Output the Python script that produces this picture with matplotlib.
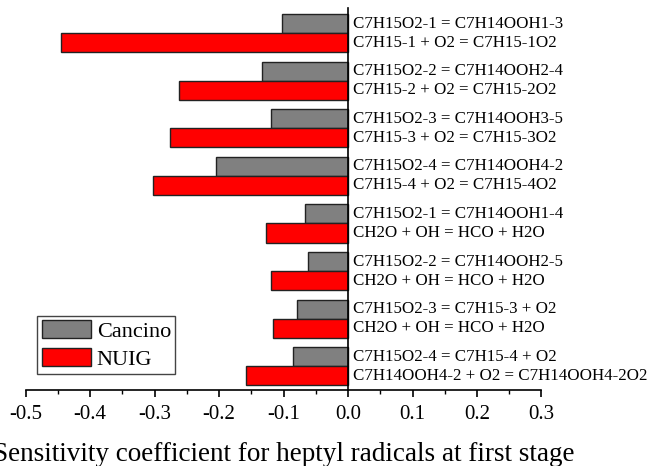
import matplotlib
matplotlib.use("Agg")
import matplotlib.pyplot as plt
import numpy as np
from matplotlib.ticker import MultipleLocator

plt.rcParams['font.family'] = ['Liberation Serif', 'DejaVu Serif']
plt.rcParams['axes.unicode_minus'] = False

# Reaction pairs, listed top to bottom
cancino_reactions = [
    "C7H15O2-1 = C7H14OOH1-3",
    "C7H15O2-2 = C7H14OOH2-4",
    "C7H15O2-3 = C7H14OOH3-5",
    "C7H15O2-4 = C7H14OOH4-2",
    "C7H15O2-1 = C7H14OOH1-4",
    "C7H15O2-2 = C7H14OOH2-5",
    "C7H15O2-3 = C7H15-3 + O2",
    "C7H15O2-4 = C7H15-4 + O2",
]
nuig_reactions = [
    "C7H15-1 + O2 = C7H15-1O2",
    "C7H15-2 + O2 = C7H15-2O2",
    "C7H15-3 + O2 = C7H15-3O2",
    "C7H15-4 + O2 = C7H15-4O2",
    "CH2O + OH = HCO + H2O",
    "CH2O + OH = HCO + H2O",
    "CH2O + OH = HCO + H2O",
    "C7H14OOH4-2 + O2 = C7H14OOH4-2O2",
]
cancino_values = [-0.102, -0.133, -0.120, -0.205, -0.066, -0.062, -0.079, -0.085]
nuig_values = [-0.445, -0.262, -0.276, -0.303, -0.127, -0.120, -0.116, -0.159]
xticks = [-0.5, -0.4, -0.3, -0.2, -0.1, 0.0, 0.1, 0.2, 0.3]

fig = plt.figure(figsize=(6.5, 4.66), dpi=100)
ax = fig.add_axes([0.0395, 0.163, 0.7935, 0.82])

n = len(cancino_values)
centers = np.arange(n)[::-1].astype(float)
h = 0.4
y_c = centers + h / 2
y_n = centers - h / 2

ax.barh(y_c, cancino_values, height=h, color='#808080', edgecolor='#222222',
        linewidth=1.0, label='Cancino')
ax.barh(y_n, nuig_values, height=h, color='#ff0000', edgecolor='#222222',
        linewidth=1.0, label='NUIG')

for y, t in zip(y_c, cancino_reactions):
    ax.annotate(t, xy=(0, y), xytext=(3.5, 0), textcoords='offset points',
                ha='left', va='center', fontsize=12.2)
for y, t in zip(y_n, nuig_reactions):
    ax.annotate(t, xy=(0, y), xytext=(3.5, 0), textcoords='offset points',
                ha='left', va='center', fontsize=12.2)

ax.set_xlim(-0.5, 0.3)
ax.set_ylim(-0.5, 7.53)
ax.spines['top'].set_visible(False)
ax.spines['right'].set_visible(False)
ax.spines['left'].set_position(('data', 0))
ax.spines['left'].set_linewidth(1.2)
ax.spines['bottom'].set_linewidth(1.2)
ax.set_yticks([])
ax.set_xticks(xticks)
ax.set_xticklabels([f"{v:.1f}" for v in xticks])
ax.xaxis.set_minor_locator(MultipleLocator(0.05))
ax.tick_params(axis='x', which='major', direction='out', length=5, width=1.2,
               labelsize=15, pad=6)
ax.tick_params(axis='x', which='minor', direction='out', length=3, width=1.0)
ax.set_xlabel("Sensitivity coefficient for heptyl radicals at first stage",
              fontsize=19.5, labelpad=13)

leg = ax.legend(loc='lower left', bbox_to_anchor=(0.014, 0.03), fontsize=16,
                fancybox=False, edgecolor='#444444', framealpha=1,
                handlelength=2.2, handleheight=0.86, borderpad=0.2,
                labelspacing=0.27, handletextpad=0.27, borderaxespad=0.2)
leg.get_frame().set_linewidth(1.0)

fig.savefig("out.png", dpi=100)
